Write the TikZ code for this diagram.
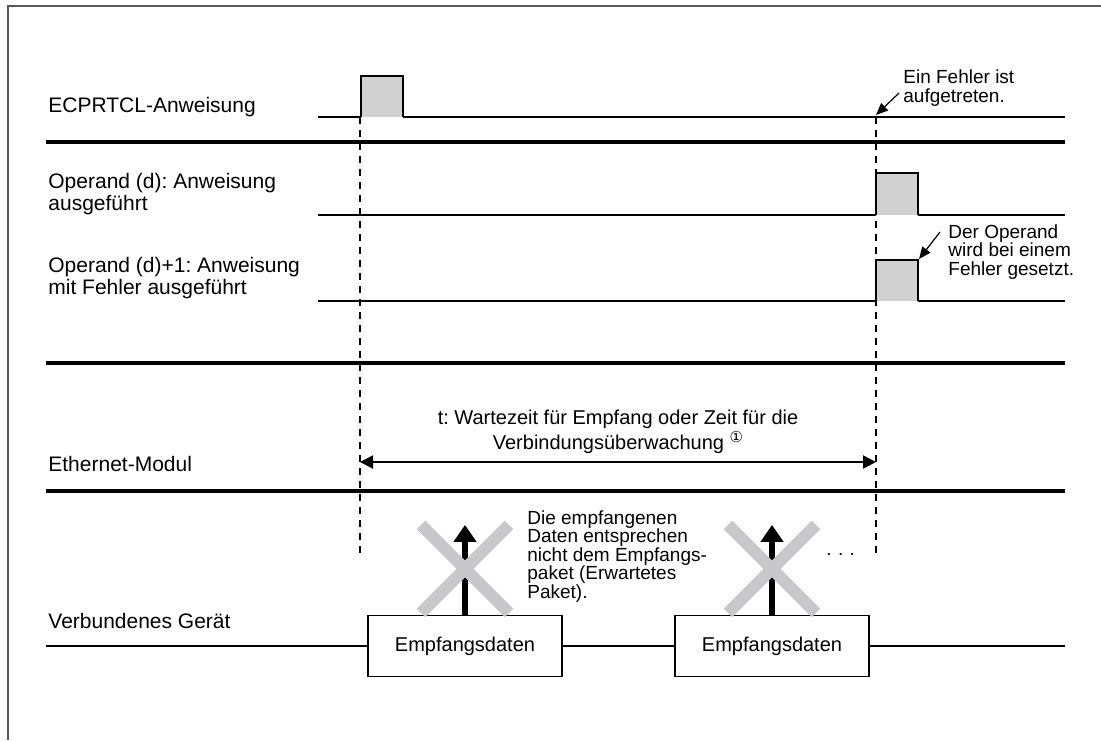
\documentclass[tikz,border=0pt]{standalone}
\usepackage{fontspec}
\setmainfont{Liberation Sans}
\newfontfamily\symfont{DejaVu Sans}
\usetikzlibrary{arrows.meta}
\frenchspacing

\definecolor{pulsegray}{gray}{0.82}
\definecolor{crossgray}{RGB}{200,200,204}
\definecolor{framegray}{gray}{0.35}

\tikzset{
  lbl/.style={anchor=base west, align=left, inner sep=0pt, font=\fontsize{10.5}{9.4}\selectfont},
  note/.style={anchor=base west, align=left, inner sep=0pt, font=\fontsize{9.5}{9.2}\selectfont},
  sig/.style={line width=1.1pt},
  sigthin/.style={line width=0.6pt},
  sep/.style={line width=1.6pt},
  guide/.style={line width=0.6pt, dash pattern=on 3.5pt off 3pt},
  pulse/.style={fill=pulsegray, draw=black, line width=0.8pt},
  ptr/.style={line width=0.6pt, -{Triangle[length=6pt,width=5pt]}},
  span/.style={line width=1pt, {Triangle[length=6.5pt,width=6.5pt]}-{Triangle[length=6.5pt,width=6.5pt]}},
  uparrow/.style={line width=3.2pt, -{Triangle[length=8.5pt,width=11pt]}},
  cross/.style={crossgray, line width=6pt},
  databox/.style={draw, line width=0.6pt, fill=white, inner sep=0pt,
    minimum width=97pt, minimum height=30.5pt, font=\fontsize{10}{12}\selectfont}
}

\begin{document}
\begin{tikzpicture}[x=0.5pt, y=-0.5pt]
  \useasboundingbox (0,0) rectangle (1101,740);
  \draw[framegray, line width=0.9pt] (8,740) -- (8,6) -- (1101,6);

  % ECPRTCL-Anweisung
  \node[lbl] (instr) at (48,112) {ECPRTCL-Anweisung};
  \draw[sig] (318,117) -- (361,117);
  \filldraw[pulse] (361,117) -- (361,76) -- (403,76) -- (403,117);
  \draw[sigthin] (403,117) -- (1065,117);
  \node[note] (errnote) at (903,102) {Ein Fehler ist\\aufgetreten.};
  \coordinate (errtail) at (899,93);
  \coordinate (errtip) at (876,115);
  \draw[ptr] (errtail) -- (errtip);
  \draw[sep] (46,142) -- (1065,142);

  % Operand (d)
  \node[lbl] (done) at (48,210) {Operand (d): Anweisung\\ausgeführt};
  \draw[sig] (318,215) -- (876,215);
  \filldraw[pulse] (876,215) -- (876,173) -- (918,173) -- (918,215);
  \draw[sigthin] (918,215) -- (1065,215);

  % Operand (d)+1
  \node[lbl] (fail) at (48,294) {Operand (d)+1: Anweisung\\mit Fehler ausgeführt};
  \draw[sig] (318,301) -- (876,301);
  \filldraw[pulse] (876,301) -- (876,260) -- (918,260) -- (918,301);
  \draw[sigthin] (918,301) -- (1065,301);
  \node[note] (setnote) at (948,275) {Der Operand\\wird bei einem\\Fehler gesetzt.};
  \coordinate (settail) at (940,232);
  \coordinate (settip) at (919,259);
  \draw[ptr] (settail) -- (settip);
  \draw[sep] (46,363) -- (1065,363);

  % Ethernet-Modul
  \node[lbl] (eth) at (48,471) {Ethernet-Modul};
  \node[anchor=base, align=center, inner sep=0pt, font=\fontsize{10}{12.5}\selectfont] (wait) at (618,449)
    {t: Wartezeit für Empfang oder Zeit für die\\Verbindungsüberwachung \raisebox{0.6ex}{\symfont\fontsize{7.5}{8}\selectfont ①}};
  \coordinate (tstart) at (360,462);
  \coordinate (tend) at (876,462);
  \draw[span] (tstart) -- (tend);
  \draw[sep] (46,491) -- (1065,491);

  % time marks
  \coordinate (t0) at (360,117);
  \coordinate (terr) at (876,117);
  \draw[guide] (t0) -- (360,553);
  \draw[guide] (terr) -- (876,553);

  % Verbundenes Geraet
  \node[lbl] (dev) at (48,628) {Verbundenes Gerät};
  \node[databox] (rx1) at (465,646) {Empfangsdaten};
  \node[databox] (rx2) at (772,646) {Empfangsdaten};
  \draw[sig] (46,646) -- (rx1.west);
  \draw[sig] (rx1.east) -- (rx2.west);
  \draw[sig] (rx2.east) -- (1065,646);
  \foreach \b in {rx1,rx2} {
    \draw[uparrow] (\b.north) -- ++(0,-90);
    \draw[cross] ([xshift=-22pt,yshift=1pt]\b.north) -- ++(88,-88);
    \draw[cross] ([xshift=22pt,yshift=1pt]\b.north) -- ++(-88,-88);
  }
  \node[note] (mismatch) at (527,598)
    {Die empfangenen\\Daten entsprechen\\nicht dem Empfangs-\\paket (Erwartetes\\Paket).};
  \node[note] (more) at (826,555) {.\,\,.\,\,.};
\end{tikzpicture}
\end{document}
